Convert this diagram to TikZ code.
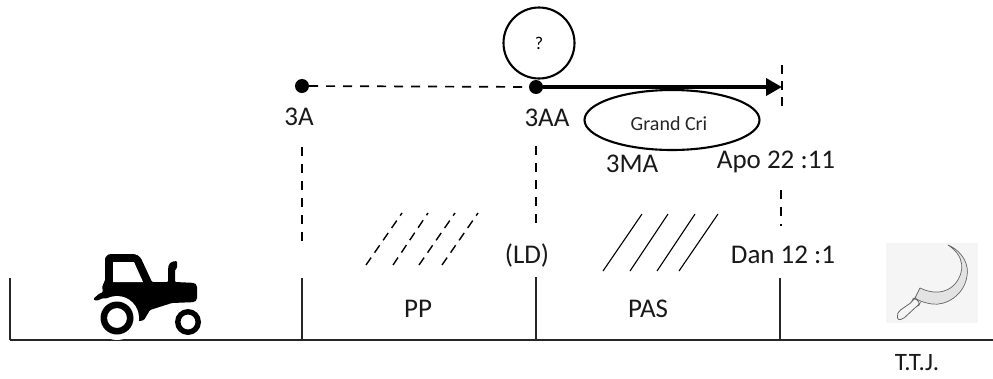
\documentclass[tikz,border=0pt]{standalone}
\usepackage{fontspec}
\setmainfont{Carlito}
\usetikzlibrary{arrows.meta,shapes.geometric}
\tikzset{
  lbl/.style={inner sep=0pt,font=\fontsize{27}{29}\selectfont,text=black!90},
  small/.style={inner sep=0pt,font=\fontsize{20}{22}\selectfont,text=black!85},
  dot/.style={circle,fill=black,inner sep=0pt,minimum size=14pt},
  base/.style={line width=1.2pt,draw=black!85},
  dashline/.style={line width=1.7pt,dash pattern=on 9pt off 8pt},
  hatchd/.style={line width=1.4pt,dash pattern=on 9pt off 6pt},
  hatchs/.style={line width=1.1pt},
  bubble/.style={draw,line width=2.1pt,inner sep=0pt},
}
\begin{document}
\begin{tikzpicture}[x=1pt,y=-1pt]
\useasboundingbox (0,0) rectangle (993,378);
% baseline and ticks
\coordinate (bl) at (10,340); \coordinate (br) at (993,340);
\coordinate (t0) at (10,278); \coordinate (t0b) at (10,340);
\coordinate (t1) at (302,278); \coordinate (t1b) at (302,340);
\coordinate (t2) at (536,277); \coordinate (t2b) at (536,340);
\coordinate (t3) at (780,278); \coordinate (t3b) at (780,340);
\draw[base] (bl) -- (br);
\draw[base] (t0) -- (t0b);
\draw[base] (t1) -- (t1b);
\draw[base] (t2) -- (t2b);
\draw[base] (t3) -- (t3b);
% top timeline
\node[dot] (a) at (302,86) {};
\node[dot] (b) at (536,87) {};
\coordinate (c) at (782,87);
\coordinate (ctop) at (782,65); \coordinate (cbot) at (782,108);
\draw[dashline] (a) -- (b);
\draw[line width=3.6pt,-{Triangle[length=16pt,width=17pt]}] (b) -- (c);
\draw[line width=1.5pt,dash pattern=on 9pt off 7pt] (ctop) -- (cbot);
\coordinate (d1a) at (302,147); \coordinate (d1b) at (302,245);
\coordinate (d2a) at (536,146); \coordinate (d2b) at (536,226);
\coordinate (d3a) at (781,190); \coordinate (d3b) at (781,226);
\draw[dashline] (d1a) -- (d1b);
\draw[dashline] (d2a) -- (d2b);
\draw[dashline] (d3a) -- (d3b);
% bubbles
\node[bubble,circle,minimum size=71pt] (q) at (539,43) {\fontsize{18}{20}\selectfont ?};
\node[bubble,ellipse,minimum width=175pt,minimum height=60pt] (gc) at (672,120) {};
\node[small] (gct) at (669,124) {Grand Cri};
% labels
\node[lbl] (l3a) at (299,117) {3A};
\node[lbl] (l3aa) at (547,118) {3AA};
\node[lbl] (l3ma) at (632,164) {3MA};
\node[lbl] (lapo) at (776,162) {Apo 22 :11};
\node[lbl] (ldan) at (783,255) {Dan 12 :1};
\node[lbl] (lld) at (527,255) {(LD)};
\node[lbl] (lpp) at (418,309) {PP};
\node[lbl] (lpas) at (648,309) {PAS};
\node[lbl,font=\fontsize{25}{27}\selectfont] (lttj) at (917,363) {T.T.J.};
% hatches
\foreach \x/\y/\u/\v in {366/265/402/213,393/265/428/213,419/265/455/213,442/265/478/213}
  \draw[hatchd] (\x,\y) -- (\u,\v);
\foreach \x/\y/\u/\v in {603/271/642/214,630/271/668/214,657/271/695/214,679/271/718/214}
  \draw[hatchs] (\x,\y) -- (\u,\v);
% tractor
\fill[black,rounded corners=2pt] (93,300) -- (103,293) -- (102,285) -- (105,282) -- (105,260) [rounded corners=6pt] -- (105,254) -- (139,254) [rounded corners=1pt] -- (152,282) -- (168,282) -- (168,270) [rounded corners=4pt] -- (169,262) [rounded corners=1pt] -- (177,261) -- (177,268) -- (175,270) -- (175,282) [rounded corners=4pt] -- (197,283) -- (197,302) [rounded corners=1pt] -- (172,303) -- (150,310) -- (144,320) -- (140,321) -- (136,320) -- (130,300) -- (100,298) -- cycle;
\fill[white] (113,262) -- (134,262) -- (143,282) -- (113,282) -- cycle;
\fill[white] (117,318) circle (22);
\fill[white] (188,322) circle (17);
\fill[black,even odd rule] (117,318) circle (16.5) (117,318) circle (10);
\fill[black,even odd rule] (188,322) circle (13) (188,322) circle (7.5);
\fill[black,rounded corners=1.5pt] (93,299) -- (96,301) -- (110,295.5) -- (122,295) -- (118,290) -- (100,293) -- cycle;
% sickle
\fill[gray!8] (886,243) rectangle (978,323);
\filldraw[fill=gray!22,draw=black!60,line width=.7pt,line join=round]
  (948,245) .. controls (964,252) and (969,266) .. (967,276)
  .. controls (964,296) and (945,306) .. (932,304)
  .. controls (925,303) and (919,301) .. (915,298)
  -- (920,288)
  .. controls (932,294) and (946,294) .. (955,284)
  .. controls (965,272) and (965,256) .. (948,245) -- cycle;
\filldraw[fill=gray!8,draw=black!60,line width=.8pt,rounded corners=2pt]
  (915,298) -- (920,303) -- (919,305) -- (917,306) -- (903,319) -- (898,320) -- (897,315) -- (899,311) -- (912,302) -- (913,299) -- cycle;
\end{tikzpicture}
\end{document}
